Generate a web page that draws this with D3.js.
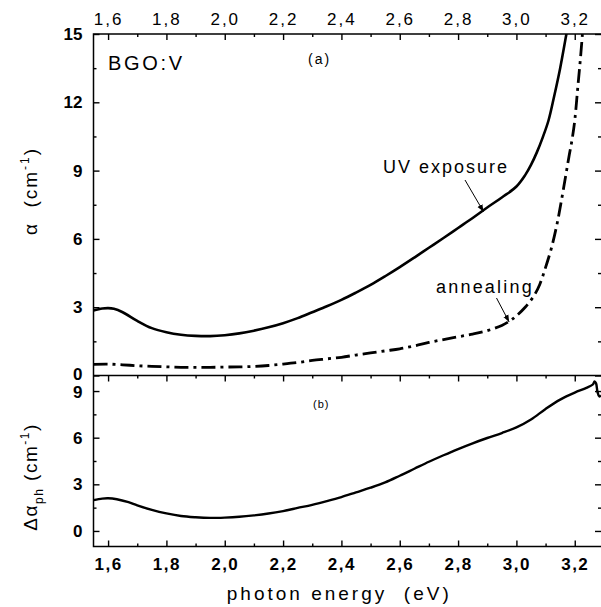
<!DOCTYPE html>
<html>
<head>
<meta charset="utf-8">
<script src="https://cdn.jsdelivr.net/npm/d3@7"></script>
<style>
  html, body { margin: 0; padding: 0; background: #fff; }
  svg { display: block; font-family: "Liberation Sans", Arial, sans-serif; }
</style>
</head>
<body>
<svg id="chart" width="601" height="607"></svg>
<script>
// Photon energy (eV) and absorption coefficient (cm^-1) after UV exposure
const uvEnergy = [1.55, 1.58, 1.60, 1.62, 1.65, 1.70, 1.75, 1.80, 1.85, 1.90, 1.95, 2.00, 2.05, 2.10, 2.15, 2.20,
  2.25, 2.30, 2.35, 2.40, 2.45, 2.50, 2.55, 2.60, 2.65, 2.70, 2.75, 2.80, 2.85, 2.90, 2.95, 3.00,
  3.03, 3.05, 3.07, 3.09, 3.11, 3.13, 3.15, 3.17, 3.18];
const uvAlpha = [2.86, 2.94, 2.96, 2.93, 2.78, 2.40, 2.08, 1.90, 1.79, 1.74, 1.73, 1.77, 1.85, 1.97, 2.12, 2.30,
  2.52, 2.78, 3.04, 3.32, 3.64, 3.98, 4.36, 4.76, 5.18, 5.61, 6.04, 6.48, 6.92, 7.38, 7.82, 8.30,
  8.80, 9.25, 9.80, 10.45, 11.20, 12.30, 13.50, 14.90, 15.60];

// Absorption coefficient after annealing
const annEnergy = [1.55, 1.60, 1.65, 1.70, 1.75, 1.80, 1.85, 1.90, 1.95, 2.00, 2.05, 2.10, 2.15, 2.20, 2.25, 2.30,
  2.35, 2.40, 2.45, 2.50, 2.55, 2.60, 2.65, 2.70, 2.75, 2.80, 2.85, 2.90, 2.95, 2.98, 3.00, 3.03,
  3.06, 3.08, 3.10, 3.12, 3.14, 3.16, 3.18, 3.19, 3.20, 3.21, 3.22, 3.23];
const annAlpha = [0.49, 0.50, 0.47, 0.43, 0.40, 0.38, 0.36, 0.36, 0.36, 0.37, 0.38, 0.40, 0.44, 0.50, 0.57, 0.66,
  0.73, 0.80, 0.90, 0.99, 1.08, 1.17, 1.30, 1.45, 1.58, 1.70, 1.82, 1.97, 2.20, 2.42, 2.62, 3.00,
  3.50, 4.00, 4.75, 5.60, 6.70, 8.10, 9.60, 10.30, 11.20, 12.60, 14.00, 15.60];

// Photo-induced absorption change
const phEnergy = [1.55, 1.58, 1.60, 1.63, 1.67, 1.70, 1.75, 1.80, 1.85, 1.90, 1.95, 2.00, 2.05, 2.10, 2.15, 2.20,
  2.25, 2.30, 2.35, 2.40, 2.45, 2.50, 2.55, 2.60, 2.65, 2.70, 2.75, 2.80, 2.85, 2.90, 2.95, 3.00,
  3.05, 3.10, 3.15, 3.20, 3.24, 3.262, 3.268, 3.273, 3.278, 3.284, 3.29];
const phDelta = [1.98, 2.08, 2.10, 2.04, 1.85, 1.65, 1.36, 1.13, 0.96, 0.88, 0.84, 0.86, 0.91, 1.00, 1.12, 1.28,
  1.48, 1.68, 1.92, 2.18, 2.48, 2.78, 3.12, 3.55, 4.00, 4.45, 4.87, 5.27, 5.64, 5.98, 6.30, 6.66,
  7.17, 7.85, 8.45, 8.90, 9.20, 9.42, 9.62, 9.50, 8.95, 8.65, 8.72];

// Axis ticks
const xMajor = [1.6, 1.8, 2.0, 2.2, 2.4, 2.6, 2.8, 3.0, 3.2];
const xMinor = [1.7, 1.9, 2.1, 2.3, 2.5, 2.7, 2.9, 3.1];
const yTopMajor = [0, 3, 6, 9, 12, 15];
const yTopMinor = [1.5, 4.5, 7.5, 10.5, 13.5];
const yBotMajor = [0, 3, 6, 9];
const yBotMinor = [1.5, 4.5, 7.5];

const svg = d3.select("#chart");
const plotLeft = 93.5, plotRight = 601, plotTop = 34, plotMid = 375.5, plotBottom = 546.5;

const x = d3.scaleLinear().domain([1.55, 3.29]).range([plotLeft, plotRight]);
const yTop = d3.scaleLinear().domain([0, 15]).range([plotMid, plotTop]);
const yBot = d3.scaleLinear().domain([-1, 10]).range([plotBottom, plotMid]);

const comma = d => d.toFixed(1).replace(".", ",");

svg.append("rect").attr("width", 601).attr("height", 607).attr("fill", "#fff");

const defs = svg.append("defs");
defs.append("clipPath").attr("id", "clipTop")
  .append("rect").attr("x", plotLeft).attr("y", plotTop).attr("width", plotRight - plotLeft).attr("height", plotMid - plotTop);
defs.append("clipPath").attr("id", "clipBot")
  .append("rect").attr("x", plotLeft).attr("y", plotMid).attr("width", plotRight - plotLeft).attr("height", plotBottom - plotMid);
defs.append("marker").attr("id", "arrow").attr("viewBox", "0 0 10 10")
  .attr("refX", 10).attr("refY", 5).attr("markerWidth", 7).attr("markerHeight", 7)
  .attr("markerUnits", "userSpaceOnUse").attr("orient", "auto")
  .append("path").attr("d", "M0,1 L10,5 L0,9 Z").attr("fill", "#000");

// Curves
const lineTop = d3.line().x(d => x(d[0])).y(d => yTop(d[1])).curve(d3.curveCatmullRom);
const lineBot = d3.line().x(d => x(d[0])).y(d => yBot(d[1])).curve(d3.curveCatmullRom);

svg.append("path")
  .datum(d3.zip(uvEnergy, uvAlpha))
  .attr("clip-path", "url(#clipTop)")
  .attr("d", lineTop).attr("fill", "none").attr("stroke", "#000").attr("stroke-width", 2.6);

svg.append("path")
  .datum(d3.zip(annEnergy, annAlpha))
  .attr("clip-path", "url(#clipTop)")
  .attr("d", lineTop).attr("fill", "none").attr("stroke", "#000").attr("stroke-width", 2.8)
  .attr("stroke-dasharray", "14,5,3,5");

svg.append("path")
  .datum(d3.zip(phEnergy, phDelta))
  .attr("clip-path", "url(#clipBot)")
  .attr("d", lineBot).attr("fill", "none").attr("stroke", "#000").attr("stroke-width", 2.4);

// Axes
function styleAxis(g) {
  g.select(".domain").remove();
  g.selectAll(".tick line").attr("stroke", "#000").attr("stroke-width", 1.4);
}

// top energy axis (plain labels)
svg.append("g").attr("transform", `translate(0,${plotTop})`)
  .call(d3.axisTop(x).tickValues(xMajor).tickSize(-6).tickPadding(9).tickFormat(comma))
  .call(styleAxis)
  .selectAll("text").attr("font-size", 17).attr("letter-spacing", 2).attr("fill", "#000")
  .attr("font-family", "Liberation Sans, Arial, sans-serif");
svg.append("g").attr("transform", `translate(0,${plotTop})`)
  .call(d3.axisTop(x).tickValues(xMinor).tickSize(-3).tickFormat(""))
  .call(styleAxis);

// separator between panels: ticks into lower panel
svg.append("g").attr("transform", `translate(0,${plotMid})`)
  .call(d3.axisTop(x).tickValues(xMajor).tickSize(-6).tickFormat(""))
  .call(styleAxis);
svg.append("g").attr("transform", `translate(0,${plotMid})`)
  .call(d3.axisTop(x).tickValues(xMinor).tickSize(-3).tickFormat(""))
  .call(styleAxis);

// bottom energy axis (bold labels)
svg.append("g").attr("transform", `translate(0,${plotBottom})`)
  .call(d3.axisBottom(x).tickValues(xMajor).tickSize(-6).tickPadding(11).tickFormat(comma))
  .call(styleAxis)
  .selectAll("text").attr("font-size", 17).attr("font-weight", "bold").attr("letter-spacing", 1.5)
  .attr("fill", "#000").attr("font-family", "Liberation Sans, Arial, sans-serif");
svg.append("g").attr("transform", `translate(0,${plotBottom})`)
  .call(d3.axisBottom(x).tickValues(xMinor).tickSize(-3).tickFormat(""))
  .call(styleAxis);

// left axes with labels, right axes with inward ticks only
function valueAxes(scale, major, minor, cls) {
  svg.append("g").attr("class", cls).attr("transform", `translate(${plotLeft},0)`)
    .call(d3.axisLeft(scale).tickValues(major).tickSize(-6).tickPadding(11).tickFormat(d3.format("d")))
    .call(styleAxis)
    .selectAll("text").attr("font-size", 17).attr("font-weight", "bold").attr("fill", "#000")
    .attr("font-family", "Liberation Sans, Arial, sans-serif");
  svg.append("g").attr("transform", `translate(${plotLeft},0)`)
    .call(d3.axisLeft(scale).tickValues(minor).tickSize(-3).tickFormat(""))
    .call(styleAxis);
  svg.append("g").attr("transform", `translate(${plotRight},0)`)
    .call(d3.axisRight(scale).tickValues(major).tickSize(-6).tickFormat(""))
    .call(styleAxis);
  svg.append("g").attr("transform", `translate(${plotRight},0)`)
    .call(d3.axisRight(scale).tickValues(minor).tickSize(-3).tickFormat(""))
    .call(styleAxis);
}
valueAxes(yTop, yTopMajor, yTopMinor, "axis-top");
valueAxes(yBot, yBotMajor, yBotMinor, "axis-bot");
// the two labels at the panel junction sit very close together
svg.selectAll(".axis-top .tick text").filter(d => d === 0).attr("dy", "0.22em");
svg.selectAll(".axis-bot .tick text").filter(d => d === 9).attr("dy", "0.40em");

// frame (left, top, bottom and the panel separator)
const frame = svg.append("g").attr("stroke", "#000").attr("stroke-width", 1.5).attr("fill", "none");
frame.append("path").attr("d", `M${plotRight},${plotTop}H${plotLeft}V${plotBottom}H${plotRight}`);
frame.append("line").attr("x1", plotLeft).attr("x2", plotRight).attr("y1", plotMid).attr("y2", plotMid);

// axis titles
svg.append("text")
  .attr("transform", `translate(${(plotLeft + plotRight) / 2 - 8},600)`)
  .attr("text-anchor", "middle").attr("font-size", 19).attr("letter-spacing", 3).attr("fill", "#000")
  .attr("xml:space", "preserve")
  .text("photon energy  (eV)");

const t1 = svg.append("text")
  .attr("transform", "translate(37,191) rotate(-90)")
  .attr("text-anchor", "middle").attr("font-size", 19).attr("letter-spacing", 2).attr("fill", "#000")
  .attr("xml:space", "preserve");
t1.append("tspan").text("α  (cm");
t1.append("tspan").attr("font-size", 12).attr("dy", -8).text("-1");
t1.append("tspan").attr("dy", 8).text(")");

const t2 = svg.append("text")
  .attr("transform", "translate(37,477) rotate(-90)")
  .attr("text-anchor", "middle").attr("font-size", 19).attr("letter-spacing", 1.5).attr("fill", "#000")
  .attr("xml:space", "preserve");
t2.append("tspan").text("Δα");
t2.append("tspan").attr("font-size", 12).attr("dy", 6).text("ph");
t2.append("tspan").attr("dy", -6).text(" (cm");
t2.append("tspan").attr("font-size", 12).attr("dy", -8).text("-1");
t2.append("tspan").attr("dy", 8).text(")");

// annotations
svg.append("text").attr("x", 108).attr("y", 70).attr("font-size", 20).attr("letter-spacing", 2.7)
  .attr("fill", "#000").text("BGO:V");
svg.append("text").attr("x", 308).attr("y", 64).attr("font-size", 14).attr("letter-spacing", 2)
  .attr("fill", "#000").text("(a)");
svg.append("text").attr("x", 313).attr("y", 408).attr("font-size", 11).attr("letter-spacing", 1)
  .attr("fill", "#000").text("(b)");

svg.append("text").attr("x", 383).attr("y", 173).attr("font-size", 18).attr("letter-spacing", 2)
  .attr("fill", "#000").text("UV exposure");
svg.append("line")
  .attr("x1", 465).attr("y1", 180).attr("x2", x(2.887)).attr("y2", yTop(7.2))
  .attr("stroke", "#000").attr("stroke-width", 1).attr("marker-end", "url(#arrow)");

svg.append("text").attr("x", 436).attr("y", 292.5).attr("font-size", 18).attr("letter-spacing", 2.2)
  .attr("fill", "#000").text("annealing");
svg.append("line")
  .attr("x1", 496.5).attr("y1", 298).attr("x2", x(2.975)).attr("y2", yTop(2.35))
  .attr("stroke", "#000").attr("stroke-width", 1).attr("marker-end", "url(#arrow)");
</script>
</body>
</html>
